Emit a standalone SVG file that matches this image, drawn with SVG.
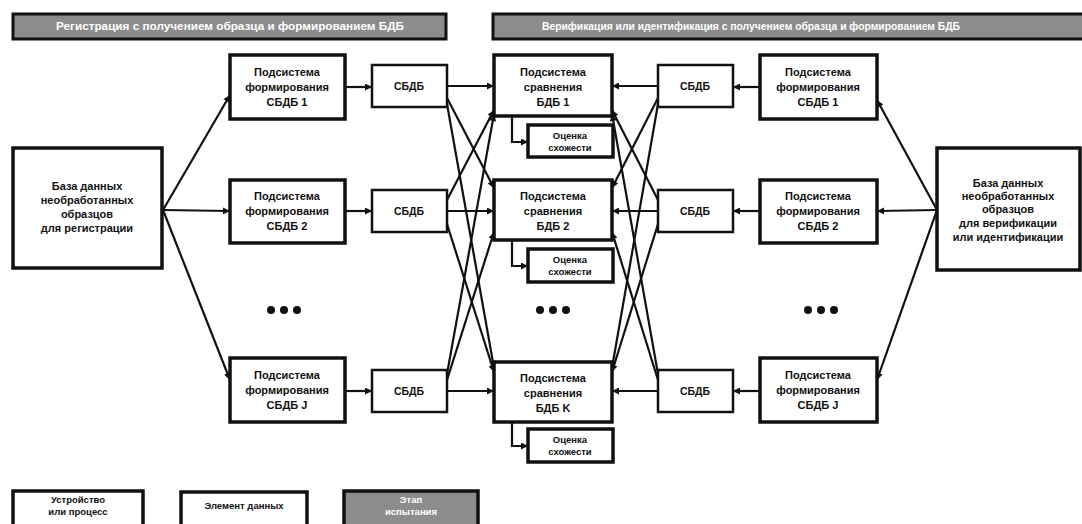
<svg xmlns="http://www.w3.org/2000/svg" width="1082" height="524" viewBox="0 0 1082 524">
<style>
  text { font-family: "Liberation Sans", Arial, sans-serif; font-weight: bold; fill: #111; text-anchor: middle; }
  .hdr rect { fill: #8c8c8c; stroke: #111; stroke-width: 3; }
  .hdr text { fill: #fff; font-size: 10.5px; }
  .big { fill: #fff; stroke: #111; stroke-width: 3.5; }
  .dev { fill: #fff; stroke: #111; stroke-width: 3.5; }
  .data { fill: #fff; stroke: #111; stroke-width: 2.5; }
  .stage { fill: #8c8c8c; stroke: #111; stroke-width: 3.5; }
  .t11 { font-size: 11px; }
  .t10 { font-size: 10.5px; }
  .t9 { font-size: 9.5px; }
  .wt { fill: #fff; }
  #connectors line, #connectors polyline { stroke: #111; stroke-width: 2.2; fill: none; marker-end: url(#arr); }
  .dot { fill: #111; }
</style>
<defs>
  <marker id="arr" viewBox="0 0 10 10" refX="10" refY="5" markerWidth="8" markerHeight="7" markerUnits="userSpaceOnUse" orient="auto">
    <path d="M0,0 L10,5 L0,10 z" fill="#111"/>
  </marker>
</defs>
<rect width="1082" height="524" fill="#fff"/>

<g id="header-left" class="hdr">
  <rect x="13" y="14" width="433" height="25"/>
  <text x="230" y="30" textLength="348" lengthAdjust="spacingAndGlyphs">Регистрация с получением образца и формированием БДБ</text>
</g>
<g id="header-right" class="hdr">
  <rect x="493" y="14" width="592" height="25"/>
  <text x="751" y="30" textLength="418" lengthAdjust="spacingAndGlyphs">Верификация или идентификация с получением образца и формированием БДБ</text>
</g>

<g id="db-enroll">
  <rect class="big" x="13" y="148" width="149" height="120"/>
  <text class="t11" x="87" y="190">База данных</text>
  <text class="t11" x="87" y="204">необработанных</text>
  <text class="t11" x="87" y="218">образцов</text>
  <text class="t11" x="87" y="232">для регистрации</text>
</g>

<g id="gen-l1">
  <rect class="dev" x="230" y="55" width="115" height="64"/>
  <text class="t11" x="287" y="76">Подсистема</text>
  <text class="t11" x="287" y="91">формирования</text>
  <text class="t11" x="287" y="106">СБДБ 1</text>
</g>
<g id="gen-l2">
  <rect class="dev" x="230" y="180" width="115" height="63"/>
  <text class="t11" x="287" y="200">Подсистема</text>
  <text class="t11" x="287" y="215">формирования</text>
  <text class="t11" x="287" y="230">СБДБ 2</text>
</g>
<g id="gen-l3">
  <rect class="dev" x="230" y="358" width="115" height="64"/>
  <text class="t11" x="287" y="379">Подсистема</text>
  <text class="t11" x="287" y="394">формирования</text>
  <text class="t11" x="287" y="409">СБДБ J</text>
</g>

<g id="sbdb-l1"><rect class="data" x="372" y="65" width="75" height="42"/><text class="t10" x="409" y="90">СБДБ</text></g>
<g id="sbdb-l2"><rect class="data" x="372" y="190" width="75" height="42"/><text class="t10" x="409" y="215">СБДБ</text></g>
<g id="sbdb-l3"><rect class="data" x="372" y="370" width="75" height="42"/><text class="t10" x="409" y="395">СБДБ</text></g>

<g id="cmp-1">
  <rect class="dev" x="494" y="55" width="118" height="61"/>
  <text class="t11" x="553" y="76">Подсистема</text>
  <text class="t11" x="553" y="91">сравнения</text>
  <text class="t11" x="553" y="106">БДБ 1</text>
</g>
<g id="cmp-2">
  <rect class="dev" x="494" y="180" width="118" height="60"/>
  <text class="t11" x="553" y="200">Подсистема</text>
  <text class="t11" x="553" y="215">сравнения</text>
  <text class="t11" x="553" y="230">БДБ 2</text>
</g>
<g id="cmp-3">
  <rect class="dev" x="494" y="362" width="118" height="60"/>
  <text class="t11" x="553" y="382">Подсистема</text>
  <text class="t11" x="553" y="397">сравнения</text>
  <text class="t11" x="553" y="412">БДБ K</text>
</g>

<g id="score-1"><rect class="dev" x="528" y="125" width="85" height="32"/><text class="t9" x="570" y="139">Оценка</text><text class="t9" x="570" y="151">схожести</text></g>
<g id="score-2"><rect class="dev" x="528" y="249" width="85" height="33"/><text class="t9" x="570" y="263">Оценка</text><text class="t9" x="570" y="275">схожести</text></g>
<g id="score-3"><rect class="dev" x="528" y="429" width="85" height="33"/><text class="t9" x="570" y="443">Оценка</text><text class="t9" x="570" y="455">схожести</text></g>

<g id="sbdb-r1"><rect class="data" x="658" y="65" width="75" height="42"/><text class="t10" x="695" y="90">СБДБ</text></g>
<g id="sbdb-r2"><rect class="data" x="658" y="190" width="75" height="42"/><text class="t10" x="695" y="215">СБДБ</text></g>
<g id="sbdb-r3"><rect class="data" x="658" y="370" width="75" height="42"/><text class="t10" x="695" y="395">СБДБ</text></g>

<g id="gen-r1">
  <rect class="dev" x="760" y="55" width="117" height="64"/>
  <text class="t11" x="818" y="76">Подсистема</text>
  <text class="t11" x="818" y="91">формирования</text>
  <text class="t11" x="818" y="106">СБДБ 1</text>
</g>
<g id="gen-r2">
  <rect class="dev" x="760" y="180" width="117" height="63"/>
  <text class="t11" x="818" y="200">Подсистема</text>
  <text class="t11" x="818" y="215">формирования</text>
  <text class="t11" x="818" y="230">СБДБ 2</text>
</g>
<g id="gen-r3">
  <rect class="dev" x="760" y="358" width="117" height="64"/>
  <text class="t11" x="818" y="379">Подсистема</text>
  <text class="t11" x="818" y="394">формирования</text>
  <text class="t11" x="818" y="409">СБДБ J</text>
</g>

<g id="db-verify">
  <rect class="big" x="937" y="148" width="143" height="122"/>
  <text class="t11" x="1008" y="187">База данных</text>
  <text class="t11" x="1008" y="200">необработанных</text>
  <text class="t11" x="1008" y="213">образцов</text>
  <text class="t11" x="1008" y="227">для верификации</text>
  <text class="t11" x="1008" y="241">или идентификации</text>
</g>

<g id="ellipsis">
  <circle class="dot" cx="271" cy="310" r="4"/><circle class="dot" cx="284" cy="310" r="4"/><circle class="dot" cx="297" cy="310" r="4"/>
  <circle class="dot" cx="540" cy="310" r="4"/><circle class="dot" cx="553" cy="310" r="4"/><circle class="dot" cx="566" cy="310" r="4"/>
  <circle class="dot" cx="808" cy="310" r="4"/><circle class="dot" cx="821" cy="310" r="4"/><circle class="dot" cx="834" cy="310" r="4"/>
</g>

<g id="connectors">
  <line x1="163" y1="210" x2="230" y2="95"/>
  <line x1="163" y1="210" x2="230" y2="211"/>
  <line x1="163" y1="210" x2="230" y2="380"/>
  <line x1="345" y1="87" x2="372" y2="87"/>
  <line x1="345" y1="211" x2="372" y2="211"/>
  <line x1="345" y1="391" x2="372" y2="391"/>
  <line x1="447" y1="86" x2="494" y2="86"/>
  <line x1="447" y1="98" x2="494" y2="188"/>
  <line x1="447" y1="104" x2="494" y2="368"/>
  <line x1="447" y1="200" x2="494" y2="110"/>
  <line x1="447" y1="211" x2="494" y2="211"/>
  <line x1="447" y1="224" x2="494" y2="372"/>
  <line x1="447" y1="374" x2="494" y2="114"/>
  <line x1="447" y1="380" x2="494" y2="232"/>
  <line x1="447" y1="391" x2="494" y2="391"/>
  <line x1="658" y1="86" x2="612" y2="86"/>
  <line x1="658" y1="98" x2="612" y2="188"/>
  <line x1="658" y1="104" x2="612" y2="368"/>
  <line x1="658" y1="200" x2="612" y2="110"/>
  <line x1="658" y1="211" x2="612" y2="211"/>
  <line x1="658" y1="224" x2="612" y2="372"/>
  <line x1="658" y1="374" x2="612" y2="114"/>
  <line x1="658" y1="380" x2="612" y2="232"/>
  <line x1="658" y1="391" x2="612" y2="391"/>
  <line x1="760" y1="87" x2="733" y2="87"/>
  <line x1="760" y1="211" x2="733" y2="211"/>
  <line x1="760" y1="391" x2="733" y2="391"/>
  <line x1="937" y1="210" x2="877" y2="100"/>
  <line x1="937" y1="210" x2="877" y2="211"/>
  <line x1="937" y1="210" x2="877" y2="380"/>
  <polyline points="512,116 512,142 528,142"/>
  <polyline points="512,240 512,266 528,266"/>
  <polyline points="512,422 512,446 528,446"/>
</g>

<g id="legend-device">
  <rect class="dev" x="13" y="491" width="130" height="40"/>
  <text class="t9" x="78" y="503">Устройство</text>
  <text class="t9" x="78" y="515">или процесс</text>
</g>
<g id="legend-data">
  <rect class="dev" x="181" y="492" width="126" height="40"/>
  <text class="t9" x="244" y="509">Элемент данных</text>
</g>
<g id="legend-stage">
  <rect class="stage" x="344" y="491" width="134" height="40"/>
  <text class="t9 wt" x="411" y="503">Этап</text>
  <text class="t9 wt" x="411" y="515">испытания</text>
</g>
</svg>
